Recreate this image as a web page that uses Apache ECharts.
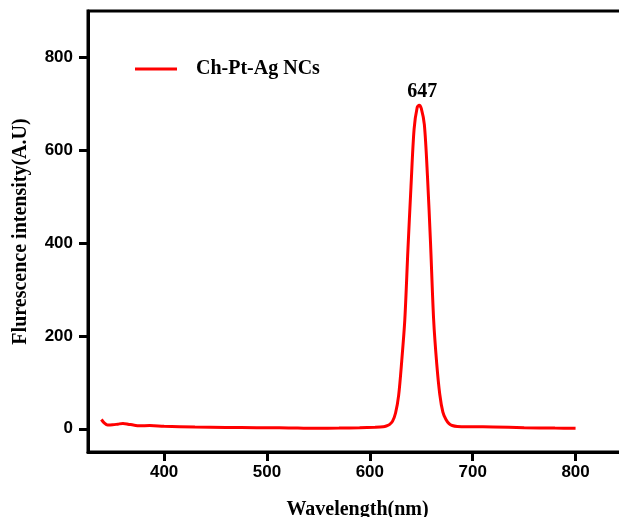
<!DOCTYPE html>
<html>
<head>
<meta charset="utf-8">
<script src="https://cdn.jsdelivr.net/npm/echarts@6/dist/echarts.min.js"></script>
<style>
  html, body { margin: 0; padding: 0; background: #fff; }
  #chart { width: 619px; height: 517px; }
</style>
</head>
<body>
<div id="chart"></div>
<script>
  // values
  var wavelength = [339, 342, 345, 350, 355, 360, 365, 370, 376, 386, 400, 430, 460, 490, 512, 530, 548, 570, 590, 605, 613,
    616, 619, 622, 625, 628, 631, 634, 637, 640, 643, 646, 648, 650, 653, 656, 659, 662, 665, 668, 671, 674, 677, 680,
    685, 700, 720, 750, 780, 800];
  var intensity = [20, 12, 8, 8.5, 10, 11.5, 10, 8, 6.5, 7, 5.5, 4, 3, 2.5, 2, 1.5, 1, 1.5, 2.5, 3.5, 4.5,
    6, 9, 16, 34, 72, 146, 235, 385, 522, 645, 692, 697, 690, 655, 545, 400, 236, 141, 74, 36, 20, 11, 7,
    5, 4.5, 4, 2.5, 1.5, 1];
  var xTicks = [400, 500, 600, 700, 800];
  var yTicks = [0, 200, 400, 600, 800];
  var seriesName = 'Ch-Pt-Ag NCs';
  var peakWavelength = 647;
  var peakIntensity = 697;

  var points = wavelength.map(function (w, i) { return [w, intensity[i]]; });

  var chart = echarts.init(document.getElementById('chart'));
  chart.setOption({
    animation: false,
    backgroundColor: '#fff',
    grid: {
      left: 88,
      top: 11,
      width: 539,
      height: 441,
      outerBoundsMode: 'none',
      containLabel: false,
      show: true,
      borderColor: '#000',
      borderWidth: 3
    },
    legend: {
      left: 130,
      top: 54,
      icon: 'rect',
      itemWidth: 42,
      itemHeight: 3,
      data: [seriesName],
      textStyle: {
        fontFamily: 'Liberation Serif',
        fontWeight: 'bold',
        fontSize: 20,
        color: '#000',
        padding: [0, 0, 0, 14]
      }
    },
    xAxis: {
      type: 'value',
      min: 326,
      max: 850,
      name: 'Wavelength(nm)',
      nameLocation: 'middle',
      nameGap: 48,
      nameTextStyle: {
        fontFamily: 'Liberation Serif',
        fontWeight: 'bold',
        fontSize: 20,
        color: '#000'
      },
      axisLine: { onZero: false, lineStyle: { color: '#000', width: 3 } },
      axisTick: { show: true, length: 9, customValues: xTicks, lineStyle: { color: '#000', width: 3 } },
      axisLabel: {
        customValues: xTicks,
        margin: 12,
        fontFamily: 'Liberation Sans',
        fontWeight: 'bold',
        fontSize: 17,
        color: '#000'
      },
      splitLine: { show: false }
    },
    yAxis: {
      type: 'value',
      min: -50,
      max: 900,
      name: 'Flurescence intensity(A.U)',
      nameLocation: 'middle',
      nameGap: 57,
      nameTextStyle: {
        fontFamily: 'Liberation Serif',
        fontWeight: 'bold',
        fontSize: 20,
        color: '#000'
      },
      axisLine: { show: true, onZero: false, lineStyle: { color: '#000', width: 3 } },
      axisTick: { show: true, length: 9, customValues: yTicks, lineStyle: { color: '#000', width: 3 } },
      axisLabel: {
        customValues: yTicks,
        margin: 15,
        fontFamily: 'Liberation Sans',
        fontWeight: 'bold',
        fontSize: 17,
        color: '#000'
      },
      splitLine: { show: false }
    },
    series: [{
      name: seriesName,
      type: 'line',
      data: points,
      symbol: 'none',
      smooth: 0.3,
      lineStyle: { color: '#ff0000', width: 3 },
      itemStyle: { color: '#ff0000' },
      markPoint: {
        symbol: 'circle',
        symbolSize: 0,
        label: {
          show: true,
          position: 'top',
          distance: 3,
          offset: [4, 0],
          formatter: String(peakWavelength),
          fontFamily: 'Liberation Serif',
          fontWeight: 'bold',
          fontSize: 20,
          color: '#000'
        },
        data: [{ coord: [peakWavelength, peakIntensity] }]
      }
    }]
  });
</script>
</body>
</html>
